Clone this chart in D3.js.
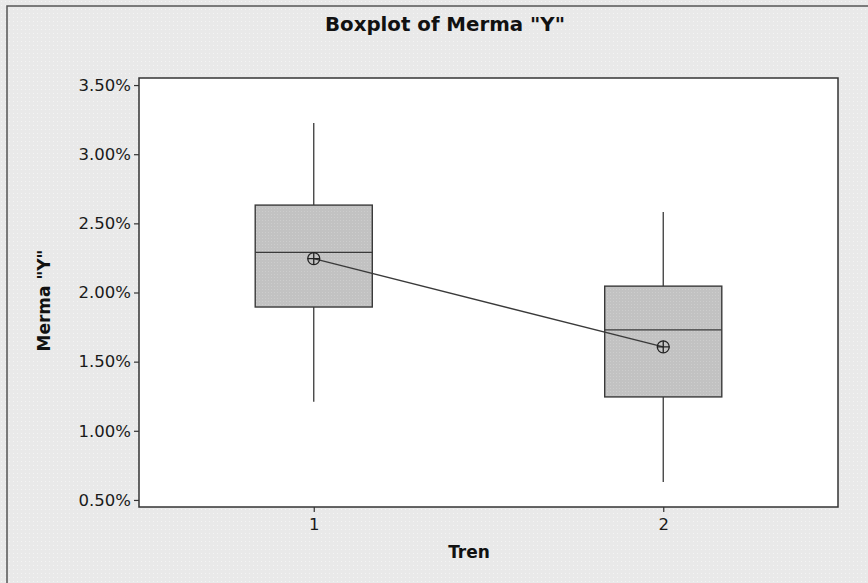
<!DOCTYPE html>
<html>
<head>
<meta charset="utf-8">
<script src="https://cdn.jsdelivr.net/npm/d3@7"></script>
<style>
  html, body { margin: 0; padding: 0; background: #e9e9e9; }
  svg { display: block; }
</style>
</head>
<body>
<svg id="chart" width="868" height="583"></svg>
<script>
// Merma "Y" by Tren — five-number summary plus mean (in %)
const categories = ["1", "2"];
const whiskerLow = [1.21, 0.63];
const q1Values = [1.895, 1.245];
const medianValues = [2.29, 1.73];
const q3Values = [2.632, 2.046];
const whiskerHigh = [3.225, 2.582];
const meanValues = [2.245, 1.607];
const yTicks = [0.5, 1.0, 1.5, 2.0, 2.5, 3.0, 3.5];

const W = 868, H = 583;
const margin = { top: 78, right: 30, bottom: 76, left: 139 };
const svg = d3.select("#chart");

// Textured light-gray background
const defs = svg.append("defs");
const bgPat = defs.append("pattern").attr("id", "bgdots")
  .attr("width", 4).attr("height", 4).attr("patternUnits", "userSpaceOnUse");
bgPat.append("rect").attr("width", 4).attr("height", 4).attr("fill", "#e9e9e9");
bgPat.append("rect").attr("x", 1).attr("y", 1).attr("width", 1).attr("height", 1).attr("fill", "#f4f4f4");
const boxPat = defs.append("pattern").attr("id", "boxdots")
  .attr("width", 3).attr("height", 3).attr("patternUnits", "userSpaceOnUse");
boxPat.append("rect").attr("width", 3).attr("height", 3).attr("fill", "#c2c2c2");
boxPat.append("rect").attr("x", 1).attr("y", 1).attr("width", 1).attr("height", 1).attr("fill", "#cdcdcd");

svg.append("rect").attr("width", W).attr("height", H).attr("fill", "url(#bgdots)");

// Outer frame (left and top edges)
svg.append("path")
  .attr("d", `M7,${H} L7,6 L${W},6`)
  .attr("fill", "none").attr("stroke", "#555").attr("stroke-width", 1.5);

const x0 = margin.left, x1 = W - margin.right;
const y0 = H - margin.bottom, y1 = margin.top;

const x = d3.scalePoint().domain(categories).range([x0, x1]).padding(0.5);
const y = d3.scaleLinear().domain([0.449, 3.551]).range([y0, y1]);

// Plot area
svg.append("rect")
  .attr("x", x0).attr("y", y1).attr("width", x1 - x0).attr("height", y0 - y1)
  .attr("fill", "#ffffff").attr("stroke", "#333").attr("stroke-width", 1.5);

const fontFam = "'DejaVu Sans', Verdana, sans-serif";

// Y axis
const yAxis = svg.append("g")
  .attr("transform", `translate(${x0},0)`)
  .call(d3.axisLeft(y).tickValues(yTicks).tickSize(5).tickPadding(3)
    .tickFormat(d => d.toFixed(2) + "%"));
yAxis.select(".domain").remove();
yAxis.selectAll("line").attr("stroke", "#333").attr("stroke-width", 1.2);
yAxis.selectAll("text").attr("font-family", fontFam).attr("font-size", 16.5).attr("fill", "#1a1a1a");

// X axis
const xAxis = svg.append("g")
  .attr("transform", `translate(0,${y0})`)
  .call(d3.axisBottom(x).tickSize(5).tickPadding(6));
xAxis.select(".domain").remove();
xAxis.selectAll("line").attr("stroke", "#333").attr("stroke-width", 1.2);
xAxis.selectAll("text").attr("font-family", fontFam).attr("font-size", 16.5).attr("fill", "#1a1a1a");

const boxW = x.step() * 0.335;
const stroke = "#3a3a3a";

const data = categories.map((c, i) => ({
  c, lo: whiskerLow[i], q1: q1Values[i], med: medianValues[i],
  q3: q3Values[i], hi: whiskerHigh[i], mean: meanValues[i]
}));

const g = svg.append("g");
// Whiskers
g.selectAll(".wh-up").data(data).join("line")
  .attr("x1", d => x(d.c)).attr("x2", d => x(d.c))
  .attr("y1", d => y(d.q3)).attr("y2", d => y(d.hi))
  .attr("stroke", stroke).attr("stroke-width", 1.3);
g.selectAll(".wh-lo").data(data).join("line")
  .attr("x1", d => x(d.c)).attr("x2", d => x(d.c))
  .attr("y1", d => y(d.q1)).attr("y2", d => y(d.lo))
  .attr("stroke", stroke).attr("stroke-width", 1.3);
// Boxes
g.selectAll(".box").data(data).join("rect")
  .attr("x", d => x(d.c) - boxW / 2).attr("width", boxW)
  .attr("y", d => y(d.q3)).attr("height", d => y(d.q1) - y(d.q3))
  .attr("fill", "url(#boxdots)").attr("stroke", stroke).attr("stroke-width", 1.4);
// Medians
g.selectAll(".med").data(data).join("line")
  .attr("x1", d => x(d.c) - boxW / 2).attr("x2", d => x(d.c) + boxW / 2)
  .attr("y1", d => y(d.med)).attr("y2", d => y(d.med))
  .attr("stroke", stroke).attr("stroke-width", 1.4);

// Mean connect line
g.append("path")
  .datum(data)
  .attr("d", d3.line().x(d => x(d.c)).y(d => y(d.mean)))
  .attr("fill", "none").attr("stroke", stroke).attr("stroke-width", 1.4);

// Mean symbols (circle with cross)
const r = 6;
const means = g.selectAll(".mean").data(data).join("g")
  .attr("transform", d => `translate(${x(d.c)},${y(d.mean)})`);
means.append("circle").attr("r", r).attr("fill", "none")
  .attr("stroke", "#222").attr("stroke-width", 1.3);
means.append("path").attr("d", `M${-r},0H${r}M0,${-r}V${r}`)
  .attr("stroke", "#222").attr("stroke-width", 1.3);

// Titles
svg.append("text")
  .attr("x", 445).attr("y", 31)
  .attr("text-anchor", "middle")
  .attr("font-family", fontFam).attr("font-weight", "bold").attr("font-size", 19)
  .attr("textLength", 240).attr("lengthAdjust", "spacingAndGlyphs")
  .attr("fill", "#111")
  .text('Boxplot of Merma "Y"');

svg.append("text")
  .attr("x", 469).attr("y", 558)
  .attr("text-anchor", "middle")
  .attr("font-family", fontFam).attr("font-weight", "bold").attr("font-size", 17)
  .attr("fill", "#111")
  .text("Tren");

svg.append("text")
  .attr("transform", `translate(50,${(y0 + y1) / 2 + 8}) rotate(-90)`)
  .attr("text-anchor", "middle")
  .attr("font-family", fontFam).attr("font-weight", "bold").attr("font-size", 17)
  .attr("fill", "#111")
  .text('Merma "Y"');
</script>
</body>
</html>
